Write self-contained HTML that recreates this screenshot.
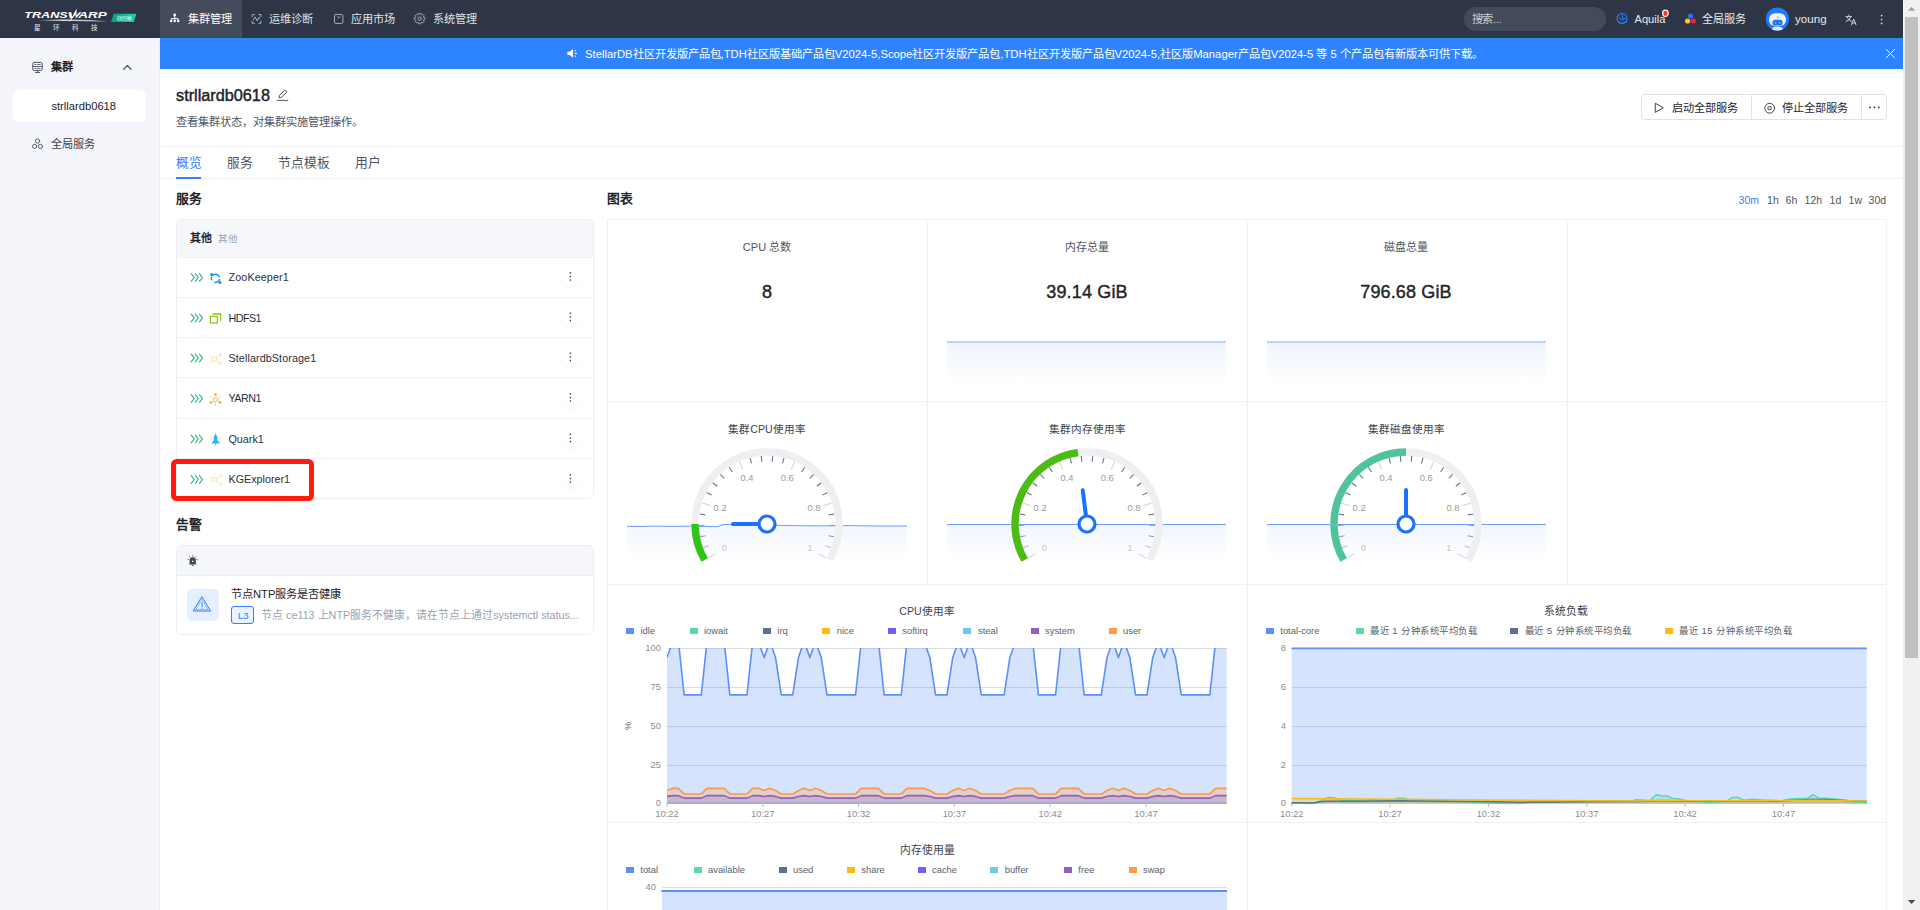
<!DOCTYPE html>
<html lang="zh-CN"><head><meta charset="utf-8"><title>Cluster</title><style>
*{box-sizing:border-box;margin:0;padding:0}
html,body{width:1920px;height:910px;overflow:hidden;background:#fff}
body{font-family:"Liberation Sans",sans-serif;font-size:11.2px;color:#1f2329;position:relative}
.abs{position:absolute}
.t{position:absolute;white-space:nowrap;line-height:1}
#hdr{position:absolute;left:0;top:0;width:1903px;height:38px;background:#2d3546}
#side{position:absolute;left:0;top:38px;width:160px;height:872px;background:#f3f5fa;border-right:1px solid #eaecf2}
#banner{position:absolute;left:160px;top:38px;width:1743px;height:31px;background:#2e84ff}
.hl{position:absolute;height:1px;background:#eff1f6}
.vl{position:absolute;width:1px;background:#eff1f6}
svg{position:absolute;overflow:visible}
</style></head><body>

<div id="hdr">
<div class="abs" style="left:160px;top:0;width:82px;height:38px;background:#444b5a"></div>
<div class="t" style="left:187.50px;width:44.02px;text-align:justify;text-align-last:justify;top:14.2px;font-size:11.2px;color:#fff">集群管理</div>
<div class="t" style="left:269.00px;width:44.02px;text-align:justify;text-align-last:justify;top:14.2px;font-size:11.2px;color:#dfe2e8">运维诊断</div>
<div class="t" style="left:350.50px;width:44.02px;text-align:justify;text-align-last:justify;top:14.2px;font-size:11.2px;color:#dfe2e8">应用市场</div>
<div class="t" style="left:432.50px;width:44.02px;text-align:justify;text-align-last:justify;top:14.2px;font-size:11.2px;color:#dfe2e8">系统管理</div>
<div class="abs" style="left:1464px;top:7px;width:142px;height:24px;border-radius:12px;background:#434a59"></div>
<div class="t" style="left:1471.59px;width:29.85px;text-align:justify;text-align-last:justify;top:14.1px;color:#c9cdd4;font-size:11.2px;letter-spacing:-0.3px">搜索...</div>
<div class="t" style="left:1634.5px;top:14px;color:#e8eaee;font-size:11.1px">Aquila</div>
<div class="t" style="left:1701.80px;width:44.02px;text-align:justify;text-align-last:justify;top:14.1px;color:#e8eaee;font-size:11.2px">全局服务</div>
<div class="t" style="left:1795px;top:13px;color:#e8eaee;font-size:11.6px">young</div>
</div>

<div id="side">
<div class="t" style="left:51.39px;width:22.02px;text-align:justify;text-align-last:justify;top:24.4px;font-size:11.2px;color:#1f2329;font-weight:bold">集群</div>
<div class="abs" style="left:13px;top:52px;width:133px;height:32px;border-radius:6px;background:#fff"></div>
<div class="t" style="left:51.4px;top:62.6px;font-size:11.2px;color:#1f2329">strllardb0618</div>
<div class="t" style="left:51.39px;width:44.02px;text-align:justify;text-align-last:justify;top:101.2px;font-size:11.2px;color:#3c4250">全局服务</div>
</div>

<div id="banner"><div class="t" style="left:425.00px;width:897.82px;text-align:justify;text-align-last:justify;top:10.6px;color:#fff;font-size:11.26px">StellarDB社区开发版产品包,TDH社区版基础产品包V2024-5,Scope社区开发版产品包,TDH社区开发版产品包V2024-5,社区版Manager产品包V2024-5 等 5 个产品包有新版本可供下载。</div></div>

<div class="t" style="left:176px;top:86.6px;font-size:16.25px;color:#1f2329;-webkit-text-stroke:0.45px #1f2329">strllardb0618</div>
<div class="t" style="left:176.00px;width:187.02px;text-align:justify;text-align-last:justify;top:117.2px;font-size:11.2px;color:#4e5563">查看集群状态，对集群实施管理操作。</div>
<div class="hl" style="left:160px;top:146px;width:1743px"></div>
<div class="t" style="left:176.00px;width:26.02px;text-align:justify;text-align-last:justify;top:157px;font-size:12.8px;color:#2f7fff">概览</div>
<div class="t" style="left:227.00px;width:26.02px;text-align:justify;text-align-last:justify;top:157px;font-size:12.8px;color:#4e5563">服务</div>
<div class="t" style="left:278.00px;width:52.02px;text-align:justify;text-align-last:justify;top:157px;font-size:12.8px;color:#4e5563">节点模板</div>
<div class="t" style="left:355.00px;width:26.02px;text-align:justify;text-align-last:justify;top:157px;font-size:12.8px;color:#4e5563">用户</div>
<div class="hl" style="left:160px;top:178px;width:1743px"></div>
<div class="abs" style="left:176px;top:177.3px;width:25px;height:1.7px;background:#2f7fff"></div>
<div class="abs" style="left:1641px;top:94px;width:246px;height:25.6px;border:1px solid #dde1ea;border-radius:4px;background:#fff"></div>
<div class="vl" style="left:1751px;top:94px;height:25.6px;background:#dfe3ea"></div>
<div class="vl" style="left:1861px;top:94px;height:25.6px;background:#dfe3ea"></div>
<div class="t" style="left:1672.00px;width:66.02px;text-align:justify;text-align-last:justify;top:102.6px;font-size:11.2px;color:#1f2329">启动全部服务</div>
<div class="t" style="left:1782.00px;width:66.02px;text-align:justify;text-align-last:justify;top:102.6px;font-size:11.2px;color:#1f2329">停止全部服务</div>
<div class="t" style="left:176.00px;width:26.02px;text-align:justify;text-align-last:justify;top:193px;font-size:12.8px;font-weight:bold;color:#1f2329">服务</div>
<div class="t" style="left:607.00px;width:26.02px;text-align:justify;text-align-last:justify;top:193px;font-size:12.8px;font-weight:bold;color:#1f2329">图表</div>
<div class="t" style="left:176.00px;width:26.02px;text-align:justify;text-align-last:justify;top:519.2px;font-size:12.8px;font-weight:bold;color:#1f2329">告警</div>
<div class="abs" style="left:176px;top:219px;width:418px;height:280px;border:1px solid #eceef3;border-radius:6px;background:#fff;overflow:hidden"><div class="abs" style="left:0;top:0;width:418px;height:38px;background:#f6f7fb"></div></div>
<div class="t" style="left:190.00px;width:22.02px;text-align:justify;text-align-last:justify;top:232.8px;font-size:10.9px;font-weight:bold;color:#1f2329">其他</div>
<div class="t" style="left:217.59px;width:20.02px;text-align:justify;text-align-last:justify;top:233.7px;font-size:9.6px;color:#a0a6b1">其他</div>
<div class="t" style="left:228.5px;top:272.1px;font-size:10.75px;letter-spacing:0.12px;color:#2a2f3a">ZooKeeper1</div>
<div class="t" style="left:228.5px;top:312.6px;font-size:10.75px;letter-spacing:-0.55px;color:#2a2f3a">HDFS1</div>
<div class="t" style="left:228.5px;top:352.6px;font-size:10.75px;letter-spacing:0.1px;color:#2a2f3a">StellardbStorage1</div>
<div class="t" style="left:228.5px;top:393.1px;font-size:10.75px;letter-spacing:-0.5px;color:#2a2f3a">YARN1</div>
<div class="t" style="left:228.5px;top:433.6px;font-size:10.75px;letter-spacing:0px;color:#2a2f3a">Quark1</div>
<div class="t" style="left:228.5px;top:474.1px;font-size:10.75px;letter-spacing:0px;color:#2a2f3a">KGExplorer1</div>
<div class="hl" style="left:177px;top:257px;width:416px"></div>
<div class="hl" style="left:177px;top:297px;width:416px"></div>
<div class="hl" style="left:177px;top:337px;width:416px"></div>
<div class="hl" style="left:177px;top:377px;width:416px"></div>
<div class="hl" style="left:177px;top:418px;width:416px"></div>
<div class="hl" style="left:177px;top:458px;width:416px"></div>
<div class="abs" style="left:561.2px;top:268.3px;width:18.4px;height:18.4px;border-radius:50%;box-shadow:0 1px 1.5px rgba(0,0,0,0.04)"></div>
<div class="abs" style="left:561.2px;top:308.8px;width:18.4px;height:18.4px;border-radius:50%;box-shadow:0 1px 1.5px rgba(0,0,0,0.04)"></div>
<div class="abs" style="left:561.2px;top:348.8px;width:18.4px;height:18.4px;border-radius:50%;box-shadow:0 1px 1.5px rgba(0,0,0,0.04)"></div>
<div class="abs" style="left:561.2px;top:389.3px;width:18.4px;height:18.4px;border-radius:50%;box-shadow:0 1px 1.5px rgba(0,0,0,0.04)"></div>
<div class="abs" style="left:561.2px;top:429.8px;width:18.4px;height:18.4px;border-radius:50%;box-shadow:0 1px 1.5px rgba(0,0,0,0.04)"></div>
<div class="abs" style="left:561.2px;top:470.3px;width:18.4px;height:18.4px;border-radius:50%;box-shadow:0 1px 1.5px rgba(0,0,0,0.04)"></div>
<div class="abs" style="left:171.3px;top:459.1px;width:142.4px;height:41.6px;border:5.2px solid #ff1c0e;border-radius:5.5px"></div>
<div class="abs" style="left:176px;top:545px;width:418px;height:90px;border:1px solid #eceef3;border-radius:6px;background:#fff;overflow:hidden"><div class="abs" style="left:0;top:0;width:418px;height:30px;background:#f6f7fb;border-bottom:1px solid #eceef3"></div></div>
<div class="abs" style="left:187px;top:589px;width:32px;height:32px;border-radius:5px;background:#e4f0ff"></div>
<div class="t" style="left:231.00px;width:110.39px;text-align:justify;text-align-last:justify;top:589.2px;font-size:11.2px;color:#1f2329">节点NTP服务是否健康</div>
<div class="abs" style="left:231px;top:606px;width:23px;height:18px;border:1px solid #2f7fff;border-radius:3px;background:#eaf3ff"></div>
<div class="t" style="left:238px;top:610.5px;font-size:9.6px;color:#2f7fff">L3</div>
<div class="t" style="left:261.00px;width:318.04px;text-align:justify;text-align-last:justify;top:609.8px;font-size:10.8px;color:#98a1b3">节点 ce113 上NTP服务不健康，请在节点上通过systemctl status...</div>
<div class="abs" style="left:607px;top:219px;width:1280px;height:700px;border:1px solid #eff1f6;background:#fff"></div>
<div class="vl" style="left:927px;top:219px;height:365px"></div>
<div class="vl" style="left:1247px;top:219px;height:691px"></div>
<div class="vl" style="left:1566.5px;top:219px;height:365px"></div>
<div class="hl" style="left:607px;top:401px;width:1280px"></div>
<div class="hl" style="left:607px;top:584px;width:1280px"></div>
<div class="hl" style="left:607px;top:822px;width:1280px"></div>
<div class="t" style="left:1738.6px;top:194.8px;font-size:10.5px;color:#2f7fff">30m</div>
<div class="t" style="left:1767.1px;top:194.8px;font-size:10.5px;color:#4e5563">1h</div>
<div class="t" style="left:1785.6px;top:194.8px;font-size:10.5px;color:#4e5563">6h</div>
<div class="t" style="left:1804.6px;top:194.8px;font-size:10.5px;color:#4e5563">12h</div>
<div class="t" style="left:1829.6px;top:194.8px;font-size:10.5px;color:#4e5563">1d</div>
<div class="t" style="left:1848.6px;top:194.8px;font-size:10.5px;color:#4e5563">1w</div>
<div class="t" style="left:1868.6px;top:194.8px;font-size:10.5px;color:#4e5563">30d</div>
<div class="t" style="left:742.86px;width:48.30px;text-align:justify;text-align-last:justify;top:242px;font-size:11px;color:#4e5563;font-weight:normal">CPU 总数</div>
<div class="t" style="left:1065.00px;width:44.02px;text-align:justify;text-align-last:justify;top:242px;font-size:11px;color:#4e5563;font-weight:normal">内存总量</div>
<div class="t" style="left:1384.00px;width:44.02px;text-align:justify;text-align-last:justify;top:242px;font-size:11px;color:#4e5563;font-weight:normal">磁盘总量</div>
<div class="t" style="left:617px;width:300px;text-align:center;top:283.2px;font-size:18px;color:#1f2329;font-weight:normal;-webkit-text-stroke:0.45px #1f2329">8</div>
<div class="t" style="left:937px;width:300px;text-align:center;top:283.2px;font-size:18px;color:#1f2329;font-weight:normal;-webkit-text-stroke:0.4px #1f2329;letter-spacing:0.15px">39.14 GiB</div>
<div class="t" style="left:1256px;width:300px;text-align:center;top:283.2px;font-size:18px;color:#1f2329;font-weight:normal;-webkit-text-stroke:0.4px #1f2329;letter-spacing:0.15px">796.68 GiB</div>
<div class="t" style="left:728.31px;width:77.39px;text-align:justify;text-align-last:justify;top:423.5px;font-size:10.6px;color:#3c4250;font-weight:normal">集群CPU使用率</div>
<div class="t" style="left:1048.50px;width:77.02px;text-align:justify;text-align-last:justify;top:423.5px;font-size:10.6px;color:#3c4250;font-weight:normal">集群内存使用率</div>
<div class="t" style="left:1367.50px;width:77.02px;text-align:justify;text-align-last:justify;top:423.5px;font-size:10.6px;color:#3c4250;font-weight:normal">集群磁盘使用率</div>
<div class="abs" style="left:626px;top:628.0px;width:8px;height:6px;background:#5b8ff9"></div>
<div class="t" style="left:640.5px;top:625.5px;font-size:9.4px;color:#595f6b">idle</div>
<div class="abs" style="left:689.7px;top:628.0px;width:8px;height:6px;background:#5ad8a6"></div>
<div class="t" style="left:704px;top:625.5px;font-size:9.4px;color:#595f6b">iowait</div>
<div class="abs" style="left:763px;top:628.0px;width:8px;height:6px;background:#5d7092"></div>
<div class="t" style="left:777.3px;top:625.5px;font-size:9.4px;color:#595f6b">irq</div>
<div class="abs" style="left:822.3px;top:628.0px;width:8px;height:6px;background:#f6bd16"></div>
<div class="t" style="left:836.7px;top:625.5px;font-size:9.4px;color:#595f6b">nice</div>
<div class="abs" style="left:888px;top:628.0px;width:8px;height:6px;background:#6f5ef9"></div>
<div class="t" style="left:902.3px;top:625.5px;font-size:9.4px;color:#595f6b">softirq</div>
<div class="abs" style="left:963.3px;top:628.0px;width:8px;height:6px;background:#6dc8ec"></div>
<div class="t" style="left:978px;top:625.5px;font-size:9.4px;color:#595f6b">steal</div>
<div class="abs" style="left:1030.7px;top:628.0px;width:8px;height:6px;background:#945fb9"></div>
<div class="t" style="left:1045px;top:625.5px;font-size:9.4px;color:#595f6b">system</div>
<div class="abs" style="left:1108.7px;top:628.0px;width:8px;height:6px;background:#ff9845"></div>
<div class="t" style="left:1123px;top:625.5px;font-size:9.4px;color:#595f6b">user</div>
<div class="t" style="left:899.31px;width:55.40px;text-align:justify;text-align-last:justify;top:606.3px;font-size:10.6px;color:#3c4250;font-weight:normal">CPU使用率</div>
<div class="t" style="left:600px;width:61px;text-align:right;top:643.3px;font-size:9.4px;color:#8c8c8c">100</div>
<div class="t" style="left:600px;width:61px;text-align:right;top:682.1px;font-size:9.4px;color:#8c8c8c">75</div>
<div class="t" style="left:600px;width:61px;text-align:right;top:720.8px;font-size:9.4px;color:#8c8c8c">50</div>
<div class="t" style="left:600px;width:61px;text-align:right;top:759.6px;font-size:9.4px;color:#8c8c8c">25</div>
<div class="t" style="left:600px;width:61px;text-align:right;top:798.4px;font-size:9.4px;color:#8c8c8c">0</div>
<div class="t" style="left:624px;top:721px;font-size:9.4px;color:#595f6b;transform:rotate(-90deg)">%</div>
<div class="t" style="left:637.0px;width:60px;text-align:center;top:808.8px;font-size:9.4px;color:#8c8c8c">10:22</div>
<div class="t" style="left:732.8px;width:60px;text-align:center;top:808.8px;font-size:9.4px;color:#8c8c8c">10:27</div>
<div class="t" style="left:828.6px;width:60px;text-align:center;top:808.8px;font-size:9.4px;color:#8c8c8c">10:32</div>
<div class="t" style="left:924.4px;width:60px;text-align:center;top:808.8px;font-size:9.4px;color:#8c8c8c">10:37</div>
<div class="t" style="left:1020.2px;width:60px;text-align:center;top:808.8px;font-size:9.4px;color:#8c8c8c">10:42</div>
<div class="t" style="left:1116.0px;width:60px;text-align:center;top:808.8px;font-size:9.4px;color:#8c8c8c">10:47</div>
<div class="abs" style="left:1266px;top:628.0px;width:8px;height:6px;background:#5b8ff9"></div>
<div class="t" style="left:1280.3px;top:625.5px;font-size:9.4px;color:#595f6b">total-core</div>
<div class="abs" style="left:1355.6px;top:628.0px;width:8px;height:6px;background:#5ad8a6"></div>
<div class="t" style="left:1370.00px;width:107.21px;text-align:justify;text-align-last:justify;top:625.5px;font-size:9.4px;letter-spacing:0.52px;color:#595f6b">最近 1 分钟系统平均负载</div>
<div class="abs" style="left:1510.3px;top:628.0px;width:8px;height:6px;background:#5d7092"></div>
<div class="t" style="left:1524.80px;width:107.21px;text-align:justify;text-align-last:justify;top:625.5px;font-size:9.4px;letter-spacing:0.52px;color:#595f6b">最近 5 分钟系统平均负载</div>
<div class="abs" style="left:1664.7px;top:628.0px;width:8px;height:6px;background:#f6bd16"></div>
<div class="t" style="left:1679.39px;width:112.94px;text-align:justify;text-align-last:justify;top:625.5px;font-size:9.4px;letter-spacing:0.52px;color:#595f6b">最近 15 分钟系统平均负载</div>
<div class="t" style="left:1544.00px;width:44.02px;text-align:justify;text-align-last:justify;top:606.2px;font-size:10.8px;color:#3c4250;font-weight:normal">系统负载</div>
<div class="t" style="left:1225px;width:61px;text-align:right;top:798.2px;font-size:9.4px;color:#8c8c8c">0</div>
<div class="t" style="left:1225px;width:61px;text-align:right;top:759.5px;font-size:9.4px;color:#8c8c8c">2</div>
<div class="t" style="left:1225px;width:61px;text-align:right;top:720.8px;font-size:9.4px;color:#8c8c8c">4</div>
<div class="t" style="left:1225px;width:61px;text-align:right;top:682.1px;font-size:9.4px;color:#8c8c8c">6</div>
<div class="t" style="left:1225px;width:61px;text-align:right;top:643.4px;font-size:9.4px;color:#8c8c8c">8</div>
<div class="t" style="left:1261.7px;width:60px;text-align:center;top:808.8px;font-size:9.4px;color:#8c8c8c">10:22</div>
<div class="t" style="left:1360.0px;width:60px;text-align:center;top:808.8px;font-size:9.4px;color:#8c8c8c">10:27</div>
<div class="t" style="left:1458.4px;width:60px;text-align:center;top:808.8px;font-size:9.4px;color:#8c8c8c">10:32</div>
<div class="t" style="left:1556.8px;width:60px;text-align:center;top:808.8px;font-size:9.4px;color:#8c8c8c">10:37</div>
<div class="t" style="left:1655.1px;width:60px;text-align:center;top:808.8px;font-size:9.4px;color:#8c8c8c">10:42</div>
<div class="t" style="left:1753.5px;width:60px;text-align:center;top:808.8px;font-size:9.4px;color:#8c8c8c">10:47</div>
<div class="abs" style="left:626px;top:867.0px;width:8px;height:6px;background:#5b8ff9"></div>
<div class="t" style="left:640.3px;top:864.5px;font-size:9.4px;color:#595f6b">total</div>
<div class="abs" style="left:693.7px;top:867.0px;width:8px;height:6px;background:#5ad8a6"></div>
<div class="t" style="left:708px;top:864.5px;font-size:9.4px;color:#595f6b">available</div>
<div class="abs" style="left:778.7px;top:867.0px;width:8px;height:6px;background:#5d7092"></div>
<div class="t" style="left:793px;top:864.5px;font-size:9.4px;color:#595f6b">used</div>
<div class="abs" style="left:847px;top:867.0px;width:8px;height:6px;background:#f6bd16"></div>
<div class="t" style="left:861.3px;top:864.5px;font-size:9.4px;color:#595f6b">share</div>
<div class="abs" style="left:917.7px;top:867.0px;width:8px;height:6px;background:#6f5ef9"></div>
<div class="t" style="left:932px;top:864.5px;font-size:9.4px;color:#595f6b">cache</div>
<div class="abs" style="left:990.3px;top:867.0px;width:8px;height:6px;background:#6dc8ec"></div>
<div class="t" style="left:1004.7px;top:864.5px;font-size:9.4px;color:#595f6b">buffer</div>
<div class="abs" style="left:1063.7px;top:867.0px;width:8px;height:6px;background:#945fb9"></div>
<div class="t" style="left:1078.3px;top:864.5px;font-size:9.4px;color:#595f6b">free</div>
<div class="abs" style="left:1128.7px;top:867.0px;width:8px;height:6px;background:#ff9845"></div>
<div class="t" style="left:1143px;top:864.5px;font-size:9.4px;color:#595f6b">swap</div>
<div class="t" style="left:899.50px;width:55.02px;text-align:justify;text-align-last:justify;top:845px;font-size:10.8px;color:#3c4250;font-weight:normal">内存使用量</div>
<div class="t" style="left:595px;width:61px;text-align:right;top:881.5px;font-size:9.4px;color:#8c8c8c">40</div>
<svg width="1920" height="910" viewBox="0 0 1920 910" style="left:0;top:0"><defs><linearGradient id="sg" x1="0" y1="0" x2="0" y2="1"><stop offset="0" stop-color="#5b8ff9" stop-opacity="0.085"/><stop offset="1" stop-color="#5b8ff9" stop-opacity="0"/></linearGradient><linearGradient id="sg2" x1="0" y1="0" x2="0" y2="1"><stop offset="0" stop-color="#5b8ff9" stop-opacity="0.10"/><stop offset="1" stop-color="#5b8ff9" stop-opacity="0"/></linearGradient><clipPath id="cpuclip"><rect x="667" y="648" width="559.6" height="156.2"/></clipPath></defs><rect x="947" y="342" width="279" height="40" fill="url(#sg2)"/><line x1="947" y1="342" x2="1226" y2="342" stroke="#86a9f5" stroke-width="1"/><rect x="1267" y="342" width="279" height="40" fill="url(#sg2)"/><line x1="1267" y1="342" x2="1546" y2="342" stroke="#86a9f5" stroke-width="1"/><line x1="707.94" y1="558.1" x2="715.56" y2="553.7" stroke="#cfcfcf" stroke-width="1"/><line x1="703.08" y1="547.77" x2="708.42" y2="545.79" stroke="#b4bfcd" stroke-width="1.1"/><line x1="700.01" y1="536.78" x2="705.61" y2="535.71" stroke="#8c9db3" stroke-width="1.1"/><line x1="698.81" y1="525.43" x2="704.51" y2="525.31" stroke="#8c9db3" stroke-width="1.1"/><line x1="699.53" y1="514.04" x2="705.17" y2="514.87" stroke="#5f7898" stroke-width="1.1"/><line x1="702.14" y1="502.93" x2="710.51" y2="505.64" stroke="#cfcfcf" stroke-width="1"/><line x1="706.56" y1="492.4" x2="711.61" y2="495.04" stroke="#5f7898" stroke-width="1.1"/><line x1="712.68" y1="482.77" x2="717.22" y2="486.21" stroke="#5f7898" stroke-width="1.1"/><line x1="720.31" y1="474.28" x2="724.22" y2="478.44" stroke="#5f7898" stroke-width="1.1"/><line x1="729.26" y1="467.19" x2="732.41" y2="471.94" stroke="#5f7898" stroke-width="1.1"/><line x1="739.26" y1="461.7" x2="742.84" y2="469.74" stroke="#cfcfcf" stroke-width="1"/><line x1="750.04" y1="457.94" x2="751.46" y2="463.46" stroke="#5f7898" stroke-width="1.1"/><line x1="761.29" y1="456.04" x2="761.77" y2="461.72" stroke="#5f7898" stroke-width="1.1"/><line x1="772.71" y1="456.04" x2="772.23" y2="461.72" stroke="#5f7898" stroke-width="1.1"/><line x1="783.96" y1="457.94" x2="782.54" y2="463.46" stroke="#5f7898" stroke-width="1.1"/><line x1="794.74" y1="461.7" x2="791.16" y2="469.74" stroke="#cfcfcf" stroke-width="1"/><line x1="804.74" y1="467.19" x2="801.59" y2="471.94" stroke="#5f7898" stroke-width="1.1"/><line x1="813.69" y1="474.28" x2="809.78" y2="478.44" stroke="#5f7898" stroke-width="1.1"/><line x1="821.32" y1="482.77" x2="816.78" y2="486.21" stroke="#5f7898" stroke-width="1.1"/><line x1="827.44" y1="492.4" x2="822.39" y2="495.04" stroke="#5f7898" stroke-width="1.1"/><line x1="831.86" y1="502.93" x2="823.49" y2="505.64" stroke="#cfcfcf" stroke-width="1"/><line x1="834.47" y1="514.04" x2="828.83" y2="514.87" stroke="#5f7898" stroke-width="1.1"/><line x1="835.19" y1="525.43" x2="829.49" y2="525.31" stroke="#8c9db3" stroke-width="1.1"/><line x1="833.99" y1="536.78" x2="828.39" y2="535.71" stroke="#8c9db3" stroke-width="1.1"/><line x1="830.92" y1="547.77" x2="825.58" y2="545.79" stroke="#b4bfcd" stroke-width="1.1"/><line x1="826.06" y1="558.1" x2="818.44" y2="553.7" stroke="#cfcfcf" stroke-width="1"/><text x="724.4" y="550.7" text-anchor="middle" font-size="9.4" fill="#c6c6c6" font-family="Liberation Sans, sans-serif">0</text><text x="720.1" y="510.7" text-anchor="middle" font-size="9.4" fill="#9a9a9a" font-family="Liberation Sans, sans-serif">0.2</text><text x="747" y="481.4" text-anchor="middle" font-size="9.4" fill="#9a9a9a" font-family="Liberation Sans, sans-serif">0.4</text><text x="787.2" y="481.4" text-anchor="middle" font-size="9.4" fill="#9a9a9a" font-family="Liberation Sans, sans-serif">0.6</text><text x="814" y="510.7" text-anchor="middle" font-size="9.4" fill="#9a9a9a" font-family="Liberation Sans, sans-serif">0.8</text><text x="809.8" y="550.7" text-anchor="middle" font-size="9.4" fill="#c6c6c6" font-family="Liberation Sans, sans-serif">1</text><path d="M627 526.3L640 526.5L655 526L670 526.4L690 526.2L705 526.5L718 526.6L721 525.2L723 524.6L740 524.6L760 525L790 525.6L820 525.9L850 525.6L880 526L907 526L907 558L627 558Z" fill="url(#sg)"/><path d="M627 526.3L640 526.5L655 526L670 526.4L690 526.2L705 526.5L718 526.6L721 525.2L723 524.6L740 524.6L760 525L790 525.6L820 525.9L850 525.6L880 526L907 526" fill="none" stroke="#6f9bf8" stroke-width="1"/><path d="M704.65 560A72 72 0 1 1 829.35 560" fill="none" stroke="#efefef" stroke-width="7.4"/><path d="M704.65 560A72 72 0 0 1 695 524" fill="none" stroke="#2fc417" stroke-width="7.4"/><line x1="767" y1="524" x2="733" y2="524" stroke="#1a72ff" stroke-width="4" stroke-linecap="round"/><circle cx="767" cy="524" r="8" fill="#fff" stroke="#1a72ff" stroke-width="3.2"/><line x1="1027.94" y1="558.1" x2="1035.56" y2="553.7" stroke="#cfcfcf" stroke-width="1"/><line x1="1023.08" y1="547.77" x2="1028.42" y2="545.79" stroke="#b4bfcd" stroke-width="1.1"/><line x1="1020.01" y1="536.78" x2="1025.61" y2="535.71" stroke="#8c9db3" stroke-width="1.1"/><line x1="1018.81" y1="525.43" x2="1024.51" y2="525.31" stroke="#8c9db3" stroke-width="1.1"/><line x1="1019.53" y1="514.04" x2="1025.17" y2="514.87" stroke="#5f7898" stroke-width="1.1"/><line x1="1022.14" y1="502.93" x2="1030.51" y2="505.64" stroke="#cfcfcf" stroke-width="1"/><line x1="1026.56" y1="492.4" x2="1031.61" y2="495.04" stroke="#5f7898" stroke-width="1.1"/><line x1="1032.68" y1="482.77" x2="1037.22" y2="486.21" stroke="#5f7898" stroke-width="1.1"/><line x1="1040.31" y1="474.28" x2="1044.22" y2="478.44" stroke="#5f7898" stroke-width="1.1"/><line x1="1049.26" y1="467.19" x2="1052.41" y2="471.94" stroke="#5f7898" stroke-width="1.1"/><line x1="1059.26" y1="461.7" x2="1062.84" y2="469.74" stroke="#cfcfcf" stroke-width="1"/><line x1="1070.04" y1="457.94" x2="1071.46" y2="463.46" stroke="#5f7898" stroke-width="1.1"/><line x1="1081.29" y1="456.04" x2="1081.77" y2="461.72" stroke="#5f7898" stroke-width="1.1"/><line x1="1092.71" y1="456.04" x2="1092.23" y2="461.72" stroke="#5f7898" stroke-width="1.1"/><line x1="1103.96" y1="457.94" x2="1102.54" y2="463.46" stroke="#5f7898" stroke-width="1.1"/><line x1="1114.74" y1="461.7" x2="1111.16" y2="469.74" stroke="#cfcfcf" stroke-width="1"/><line x1="1124.74" y1="467.19" x2="1121.59" y2="471.94" stroke="#5f7898" stroke-width="1.1"/><line x1="1133.69" y1="474.28" x2="1129.78" y2="478.44" stroke="#5f7898" stroke-width="1.1"/><line x1="1141.32" y1="482.77" x2="1136.78" y2="486.21" stroke="#5f7898" stroke-width="1.1"/><line x1="1147.44" y1="492.4" x2="1142.39" y2="495.04" stroke="#5f7898" stroke-width="1.1"/><line x1="1151.86" y1="502.93" x2="1143.49" y2="505.64" stroke="#cfcfcf" stroke-width="1"/><line x1="1154.47" y1="514.04" x2="1148.83" y2="514.87" stroke="#5f7898" stroke-width="1.1"/><line x1="1155.19" y1="525.43" x2="1149.49" y2="525.31" stroke="#8c9db3" stroke-width="1.1"/><line x1="1153.99" y1="536.78" x2="1148.39" y2="535.71" stroke="#8c9db3" stroke-width="1.1"/><line x1="1150.92" y1="547.77" x2="1145.58" y2="545.79" stroke="#b4bfcd" stroke-width="1.1"/><line x1="1146.06" y1="558.1" x2="1138.44" y2="553.7" stroke="#cfcfcf" stroke-width="1"/><text x="1044.4" y="550.7" text-anchor="middle" font-size="9.4" fill="#c6c6c6" font-family="Liberation Sans, sans-serif">0</text><text x="1040.1" y="510.7" text-anchor="middle" font-size="9.4" fill="#9a9a9a" font-family="Liberation Sans, sans-serif">0.2</text><text x="1067" y="481.4" text-anchor="middle" font-size="9.4" fill="#9a9a9a" font-family="Liberation Sans, sans-serif">0.4</text><text x="1107.2" y="481.4" text-anchor="middle" font-size="9.4" fill="#9a9a9a" font-family="Liberation Sans, sans-serif">0.6</text><text x="1134" y="510.7" text-anchor="middle" font-size="9.4" fill="#9a9a9a" font-family="Liberation Sans, sans-serif">0.8</text><text x="1129.8" y="550.7" text-anchor="middle" font-size="9.4" fill="#c6c6c6" font-family="Liberation Sans, sans-serif">1</text><rect x="947" y="524.5" width="279" height="34" fill="url(#sg)"/><line x1="947" y1="524.5" x2="1226" y2="524.5" stroke="#6f9bf8" stroke-width="1"/><path d="M1024.65 560A72 72 0 1 1 1149.35 560" fill="none" stroke="#efefef" stroke-width="7.4"/><path d="M1024.65 560A72 72 0 0 1 1077.98 452.57" fill="none" stroke="#4cbb14" stroke-width="7.4"/><line x1="1087" y1="524" x2="1082.74" y2="490.27" stroke="#1a72ff" stroke-width="4" stroke-linecap="round"/><circle cx="1087" cy="524" r="8" fill="#fff" stroke="#1a72ff" stroke-width="3.2"/><line x1="1346.94" y1="558.1" x2="1354.56" y2="553.7" stroke="#cfcfcf" stroke-width="1"/><line x1="1342.08" y1="547.77" x2="1347.42" y2="545.79" stroke="#b4bfcd" stroke-width="1.1"/><line x1="1339.01" y1="536.78" x2="1344.61" y2="535.71" stroke="#8c9db3" stroke-width="1.1"/><line x1="1337.81" y1="525.43" x2="1343.51" y2="525.31" stroke="#8c9db3" stroke-width="1.1"/><line x1="1338.53" y1="514.04" x2="1344.17" y2="514.87" stroke="#5f7898" stroke-width="1.1"/><line x1="1341.14" y1="502.93" x2="1349.51" y2="505.64" stroke="#cfcfcf" stroke-width="1"/><line x1="1345.56" y1="492.4" x2="1350.61" y2="495.04" stroke="#5f7898" stroke-width="1.1"/><line x1="1351.68" y1="482.77" x2="1356.22" y2="486.21" stroke="#5f7898" stroke-width="1.1"/><line x1="1359.31" y1="474.28" x2="1363.22" y2="478.44" stroke="#5f7898" stroke-width="1.1"/><line x1="1368.26" y1="467.19" x2="1371.41" y2="471.94" stroke="#5f7898" stroke-width="1.1"/><line x1="1378.26" y1="461.7" x2="1381.84" y2="469.74" stroke="#cfcfcf" stroke-width="1"/><line x1="1389.04" y1="457.94" x2="1390.46" y2="463.46" stroke="#5f7898" stroke-width="1.1"/><line x1="1400.29" y1="456.04" x2="1400.77" y2="461.72" stroke="#5f7898" stroke-width="1.1"/><line x1="1411.71" y1="456.04" x2="1411.23" y2="461.72" stroke="#5f7898" stroke-width="1.1"/><line x1="1422.96" y1="457.94" x2="1421.54" y2="463.46" stroke="#5f7898" stroke-width="1.1"/><line x1="1433.74" y1="461.7" x2="1430.16" y2="469.74" stroke="#cfcfcf" stroke-width="1"/><line x1="1443.74" y1="467.19" x2="1440.59" y2="471.94" stroke="#5f7898" stroke-width="1.1"/><line x1="1452.69" y1="474.28" x2="1448.78" y2="478.44" stroke="#5f7898" stroke-width="1.1"/><line x1="1460.32" y1="482.77" x2="1455.78" y2="486.21" stroke="#5f7898" stroke-width="1.1"/><line x1="1466.44" y1="492.4" x2="1461.39" y2="495.04" stroke="#5f7898" stroke-width="1.1"/><line x1="1470.86" y1="502.93" x2="1462.49" y2="505.64" stroke="#cfcfcf" stroke-width="1"/><line x1="1473.47" y1="514.04" x2="1467.83" y2="514.87" stroke="#5f7898" stroke-width="1.1"/><line x1="1474.19" y1="525.43" x2="1468.49" y2="525.31" stroke="#8c9db3" stroke-width="1.1"/><line x1="1472.99" y1="536.78" x2="1467.39" y2="535.71" stroke="#8c9db3" stroke-width="1.1"/><line x1="1469.92" y1="547.77" x2="1464.58" y2="545.79" stroke="#b4bfcd" stroke-width="1.1"/><line x1="1465.06" y1="558.1" x2="1457.44" y2="553.7" stroke="#cfcfcf" stroke-width="1"/><text x="1363.4" y="550.7" text-anchor="middle" font-size="9.4" fill="#c6c6c6" font-family="Liberation Sans, sans-serif">0</text><text x="1359.1" y="510.7" text-anchor="middle" font-size="9.4" fill="#9a9a9a" font-family="Liberation Sans, sans-serif">0.2</text><text x="1386" y="481.4" text-anchor="middle" font-size="9.4" fill="#9a9a9a" font-family="Liberation Sans, sans-serif">0.4</text><text x="1426.2" y="481.4" text-anchor="middle" font-size="9.4" fill="#9a9a9a" font-family="Liberation Sans, sans-serif">0.6</text><text x="1453" y="510.7" text-anchor="middle" font-size="9.4" fill="#9a9a9a" font-family="Liberation Sans, sans-serif">0.8</text><text x="1448.8" y="550.7" text-anchor="middle" font-size="9.4" fill="#c6c6c6" font-family="Liberation Sans, sans-serif">1</text><rect x="1267" y="524.5" width="279" height="34" fill="url(#sg)"/><line x1="1267" y1="524.5" x2="1546" y2="524.5" stroke="#6f9bf8" stroke-width="1"/><path d="M1343.65 560A72 72 0 1 1 1468.35 560" fill="none" stroke="#efefef" stroke-width="7.4"/><path d="M1343.65 560A72 72 0 0 1 1406 452" fill="none" stroke="#4fc49b" stroke-width="7.4"/><line x1="1406" y1="524" x2="1406" y2="490" stroke="#1a72ff" stroke-width="4" stroke-linecap="round"/><circle cx="1406" cy="524" r="8" fill="#fff" stroke="#1a72ff" stroke-width="3.2"/><line x1="667" y1="648.5" x2="1227" y2="648.5" stroke="#dcdcdc" stroke-width="1"/><line x1="667" y1="687.5" x2="1227" y2="687.5" stroke="#dcdcdc" stroke-width="1"/><line x1="667" y1="726.5" x2="1227" y2="726.5" stroke="#dcdcdc" stroke-width="1"/><line x1="667" y1="765.5" x2="1227" y2="765.5" stroke="#dcdcdc" stroke-width="1"/><line x1="667" y1="803.5" x2="1227" y2="803.5" stroke="#dcdcdc" stroke-width="1"/><line x1="667" y1="803.5" x2="667" y2="807" stroke="#bfbfbf" stroke-width="1"/><line x1="762.8" y1="803.5" x2="762.8" y2="807" stroke="#bfbfbf" stroke-width="1"/><line x1="858.6" y1="803.5" x2="858.6" y2="807" stroke="#bfbfbf" stroke-width="1"/><line x1="954.4" y1="803.5" x2="954.4" y2="807" stroke="#bfbfbf" stroke-width="1"/><line x1="1050.2" y1="803.5" x2="1050.2" y2="807" stroke="#bfbfbf" stroke-width="1"/><line x1="1146" y1="803.5" x2="1146" y2="807" stroke="#bfbfbf" stroke-width="1"/><g clip-path="url(#cpuclip)"><path d="M667 657.61L672.71 641.32L678.43 641.32L684.14 694.83L689.86 694.83L695.57 694.83L701.29 694.83L707 641.32L712.71 641.32L718.43 641.32L724.14 641.32L729.86 694.83L735.57 694.83L741.29 694.83L747 694.83L752.71 641.32L758.43 641.32L764.14 657.61L769.86 641.32L775.57 657.61L781.29 694.83L787 694.83L792.71 694.83L798.43 657.61L804.14 641.32L809.86 657.61L815.57 641.32L821.29 657.61L827 694.83L832.71 694.83L838.43 694.83L844.14 694.83L849.86 694.83L855.57 694.83L861.29 641.32L867 641.32L872.71 641.32L878.43 641.32L884.14 694.83L889.86 694.83L895.57 694.83L901.29 694.83L907 641.32L912.71 641.32L918.43 641.32L924.14 641.32L929.86 657.61L935.57 694.83L941.29 694.83L947 694.83L952.71 657.61L958.43 641.32L964.14 657.61L969.86 641.32L975.57 657.61L981.29 694.83L987 694.83L992.71 694.83L998.43 694.83L1004.14 694.83L1009.86 657.61L1015.57 641.32L1021.29 641.32L1027 641.32L1032.71 641.32L1038.43 694.83L1044.14 694.83L1049.86 694.83L1055.57 694.83L1061.29 641.32L1067 641.32L1072.71 641.32L1078.43 641.32L1084.14 694.83L1089.86 694.83L1095.57 694.83L1101.29 694.83L1107 657.61L1112.71 641.32L1118.43 657.61L1124.14 641.32L1129.86 657.61L1135.57 694.83L1141.29 694.83L1147 694.83L1152.71 657.61L1158.43 641.32L1164.14 657.61L1169.86 641.32L1175.57 657.61L1181.29 694.83L1187 694.83L1192.71 694.83L1198.43 694.83L1204.14 694.83L1209.86 694.83L1215.57 641.32L1221.29 641.32L1227 641.32L1227 803.4L667 803.4Z" fill="#5b8ff9" fill-opacity="0.25"/><path d="M667 790.53L672.71 788.36L678.43 788.36L684.14 793.94L689.86 793.94L695.57 793.94L701.29 793.94L707 788.36L712.71 788.36L718.43 788.36L724.14 788.36L729.86 793.94L735.57 793.94L741.29 793.94L747 793.94L752.71 788.36L758.43 788.36L764.14 790.53L769.86 788.36L775.57 790.53L781.29 793.94L787 793.94L792.71 793.94L798.43 790.53L804.14 788.36L809.86 790.53L815.57 788.36L821.29 790.53L827 793.94L832.71 793.94L838.43 793.94L844.14 793.94L849.86 793.94L855.57 793.94L861.29 788.36L867 788.36L872.71 788.36L878.43 788.36L884.14 793.94L889.86 793.94L895.57 793.94L901.29 793.94L907 788.36L912.71 788.36L918.43 788.36L924.14 788.36L929.86 790.53L935.57 793.94L941.29 793.94L947 793.94L952.71 790.53L958.43 788.36L964.14 790.53L969.86 788.36L975.57 790.53L981.29 793.94L987 793.94L992.71 793.94L998.43 793.94L1004.14 793.94L1009.86 790.53L1015.57 788.36L1021.29 788.36L1027 788.36L1032.71 788.36L1038.43 793.94L1044.14 793.94L1049.86 793.94L1055.57 793.94L1061.29 788.36L1067 788.36L1072.71 788.36L1078.43 788.36L1084.14 793.94L1089.86 793.94L1095.57 793.94L1101.29 793.94L1107 790.53L1112.71 788.36L1118.43 790.53L1124.14 788.36L1129.86 790.53L1135.57 793.94L1141.29 793.94L1147 793.94L1152.71 790.53L1158.43 788.36L1164.14 790.53L1169.86 788.36L1175.57 790.53L1181.29 793.94L1187 793.94L1192.71 793.94L1198.43 793.94L1204.14 793.94L1209.86 793.94L1215.57 788.36L1221.29 788.36L1227 788.36L1227 803.4L667 803.4Z" fill="#ff9845" fill-opacity="0.25"/><path d="M667 796.42L672.71 795.64L678.43 795.64L684.14 798.13L689.86 798.13L695.57 798.13L701.29 798.13L707 795.64L712.71 795.64L718.43 795.64L724.14 795.64L729.86 798.13L735.57 798.13L741.29 798.13L747 798.13L752.71 795.64L758.43 795.64L764.14 796.42L769.86 795.64L775.57 796.42L781.29 798.13L787 798.13L792.71 798.13L798.43 796.42L804.14 795.64L809.86 796.42L815.57 795.64L821.29 796.42L827 798.13L832.71 798.13L838.43 798.13L844.14 798.13L849.86 798.13L855.57 798.13L861.29 795.64L867 795.64L872.71 795.64L878.43 795.64L884.14 798.13L889.86 798.13L895.57 798.13L901.29 798.13L907 795.64L912.71 795.64L918.43 795.64L924.14 795.64L929.86 796.42L935.57 798.13L941.29 798.13L947 798.13L952.71 796.42L958.43 795.64L964.14 796.42L969.86 795.64L975.57 796.42L981.29 798.13L987 798.13L992.71 798.13L998.43 798.13L1004.14 798.13L1009.86 796.42L1015.57 795.64L1021.29 795.64L1027 795.64L1032.71 795.64L1038.43 798.13L1044.14 798.13L1049.86 798.13L1055.57 798.13L1061.29 795.64L1067 795.64L1072.71 795.64L1078.43 795.64L1084.14 798.13L1089.86 798.13L1095.57 798.13L1101.29 798.13L1107 796.42L1112.71 795.64L1118.43 796.42L1124.14 795.64L1129.86 796.42L1135.57 798.13L1141.29 798.13L1147 798.13L1152.71 796.42L1158.43 795.64L1164.14 796.42L1169.86 795.64L1175.57 796.42L1181.29 798.13L1187 798.13L1192.71 798.13L1198.43 798.13L1204.14 798.13L1209.86 798.13L1215.57 795.64L1221.29 795.64L1227 795.64L1227 803.4L667 803.4Z" fill="#945fb9" fill-opacity="0.25"/><path d="M667 657.61L672.71 641.32L678.43 641.32L684.14 694.83L689.86 694.83L695.57 694.83L701.29 694.83L707 641.32L712.71 641.32L718.43 641.32L724.14 641.32L729.86 694.83L735.57 694.83L741.29 694.83L747 694.83L752.71 641.32L758.43 641.32L764.14 657.61L769.86 641.32L775.57 657.61L781.29 694.83L787 694.83L792.71 694.83L798.43 657.61L804.14 641.32L809.86 657.61L815.57 641.32L821.29 657.61L827 694.83L832.71 694.83L838.43 694.83L844.14 694.83L849.86 694.83L855.57 694.83L861.29 641.32L867 641.32L872.71 641.32L878.43 641.32L884.14 694.83L889.86 694.83L895.57 694.83L901.29 694.83L907 641.32L912.71 641.32L918.43 641.32L924.14 641.32L929.86 657.61L935.57 694.83L941.29 694.83L947 694.83L952.71 657.61L958.43 641.32L964.14 657.61L969.86 641.32L975.57 657.61L981.29 694.83L987 694.83L992.71 694.83L998.43 694.83L1004.14 694.83L1009.86 657.61L1015.57 641.32L1021.29 641.32L1027 641.32L1032.71 641.32L1038.43 694.83L1044.14 694.83L1049.86 694.83L1055.57 694.83L1061.29 641.32L1067 641.32L1072.71 641.32L1078.43 641.32L1084.14 694.83L1089.86 694.83L1095.57 694.83L1101.29 694.83L1107 657.61L1112.71 641.32L1118.43 657.61L1124.14 641.32L1129.86 657.61L1135.57 694.83L1141.29 694.83L1147 694.83L1152.71 657.61L1158.43 641.32L1164.14 657.61L1169.86 641.32L1175.57 657.61L1181.29 694.83L1187 694.83L1192.71 694.83L1198.43 694.83L1204.14 694.83L1209.86 694.83L1215.57 641.32L1221.29 641.32L1227 641.32" fill="none" stroke="#5b8ff9" stroke-width="1.6" stroke-linejoin="round"/><path d="M667 790.53L672.71 788.36L678.43 788.36L684.14 793.94L689.86 793.94L695.57 793.94L701.29 793.94L707 788.36L712.71 788.36L718.43 788.36L724.14 788.36L729.86 793.94L735.57 793.94L741.29 793.94L747 793.94L752.71 788.36L758.43 788.36L764.14 790.53L769.86 788.36L775.57 790.53L781.29 793.94L787 793.94L792.71 793.94L798.43 790.53L804.14 788.36L809.86 790.53L815.57 788.36L821.29 790.53L827 793.94L832.71 793.94L838.43 793.94L844.14 793.94L849.86 793.94L855.57 793.94L861.29 788.36L867 788.36L872.71 788.36L878.43 788.36L884.14 793.94L889.86 793.94L895.57 793.94L901.29 793.94L907 788.36L912.71 788.36L918.43 788.36L924.14 788.36L929.86 790.53L935.57 793.94L941.29 793.94L947 793.94L952.71 790.53L958.43 788.36L964.14 790.53L969.86 788.36L975.57 790.53L981.29 793.94L987 793.94L992.71 793.94L998.43 793.94L1004.14 793.94L1009.86 790.53L1015.57 788.36L1021.29 788.36L1027 788.36L1032.71 788.36L1038.43 793.94L1044.14 793.94L1049.86 793.94L1055.57 793.94L1061.29 788.36L1067 788.36L1072.71 788.36L1078.43 788.36L1084.14 793.94L1089.86 793.94L1095.57 793.94L1101.29 793.94L1107 790.53L1112.71 788.36L1118.43 790.53L1124.14 788.36L1129.86 790.53L1135.57 793.94L1141.29 793.94L1147 793.94L1152.71 790.53L1158.43 788.36L1164.14 790.53L1169.86 788.36L1175.57 790.53L1181.29 793.94L1187 793.94L1192.71 793.94L1198.43 793.94L1204.14 793.94L1209.86 793.94L1215.57 788.36L1221.29 788.36L1227 788.36" fill="none" stroke="#ff9845" stroke-width="1.6" stroke-linejoin="round"/><path d="M667 796.42L672.71 795.64L678.43 795.64L684.14 798.13L689.86 798.13L695.57 798.13L701.29 798.13L707 795.64L712.71 795.64L718.43 795.64L724.14 795.64L729.86 798.13L735.57 798.13L741.29 798.13L747 798.13L752.71 795.64L758.43 795.64L764.14 796.42L769.86 795.64L775.57 796.42L781.29 798.13L787 798.13L792.71 798.13L798.43 796.42L804.14 795.64L809.86 796.42L815.57 795.64L821.29 796.42L827 798.13L832.71 798.13L838.43 798.13L844.14 798.13L849.86 798.13L855.57 798.13L861.29 795.64L867 795.64L872.71 795.64L878.43 795.64L884.14 798.13L889.86 798.13L895.57 798.13L901.29 798.13L907 795.64L912.71 795.64L918.43 795.64L924.14 795.64L929.86 796.42L935.57 798.13L941.29 798.13L947 798.13L952.71 796.42L958.43 795.64L964.14 796.42L969.86 795.64L975.57 796.42L981.29 798.13L987 798.13L992.71 798.13L998.43 798.13L1004.14 798.13L1009.86 796.42L1015.57 795.64L1021.29 795.64L1027 795.64L1032.71 795.64L1038.43 798.13L1044.14 798.13L1049.86 798.13L1055.57 798.13L1061.29 795.64L1067 795.64L1072.71 795.64L1078.43 795.64L1084.14 798.13L1089.86 798.13L1095.57 798.13L1101.29 798.13L1107 796.42L1112.71 795.64L1118.43 796.42L1124.14 795.64L1129.86 796.42L1135.57 798.13L1141.29 798.13L1147 798.13L1152.71 796.42L1158.43 795.64L1164.14 796.42L1169.86 795.64L1175.57 796.42L1181.29 798.13L1187 798.13L1192.71 798.13L1198.43 798.13L1204.14 798.13L1209.86 798.13L1215.57 795.64L1221.29 795.64L1227 795.64" fill="none" stroke="#945fb9" stroke-width="1.6" stroke-linejoin="round"/><line x1="667" y1="802.5" x2="1227" y2="802.5" stroke="#8f86ee" stroke-width="0.6" stroke-opacity="0.6"/><line x1="667" y1="803.3" x2="1227" y2="803.3" stroke="#6dc8ec" stroke-width="1.3"/></g><line x1="1291.7" y1="803.5" x2="1866.8" y2="803.5" stroke="#dcdcdc" stroke-width="1"/><line x1="1291.7" y1="765.5" x2="1866.8" y2="765.5" stroke="#dcdcdc" stroke-width="1"/><line x1="1291.7" y1="726.5" x2="1866.8" y2="726.5" stroke="#dcdcdc" stroke-width="1"/><line x1="1291.7" y1="687.5" x2="1866.8" y2="687.5" stroke="#dcdcdc" stroke-width="1"/><line x1="1291.7" y1="648.5" x2="1866.8" y2="648.5" stroke="#dcdcdc" stroke-width="1"/><line x1="1291.7" y1="803.5" x2="1291.7" y2="807" stroke="#bfbfbf" stroke-width="1"/><line x1="1390.05" y1="803.5" x2="1390.05" y2="807" stroke="#bfbfbf" stroke-width="1"/><line x1="1488.4" y1="803.5" x2="1488.4" y2="807" stroke="#bfbfbf" stroke-width="1"/><line x1="1586.75" y1="803.5" x2="1586.75" y2="807" stroke="#bfbfbf" stroke-width="1"/><line x1="1685.1" y1="803.5" x2="1685.1" y2="807" stroke="#bfbfbf" stroke-width="1"/><line x1="1783.45" y1="803.5" x2="1783.45" y2="807" stroke="#bfbfbf" stroke-width="1"/><rect x="1291.7" y="648.4" width="575.1" height="154.8" fill="#5b8ff9" fill-opacity="0.25"/><line x1="1291.7" y1="648.4" x2="1866.8" y2="648.4" stroke="#5b8ff9" stroke-width="1.8"/><path d="M1291.7 802.9L1316 802.9L1322 800L1328 797.6L1334 797.8L1340 800.3L1352 800.2L1358 800.6L1366 800L1372 799.6L1380 800.5L1392 800.3L1398 798.3L1404 798.2L1410 800L1420 800.2L1440 800.6L1460 801.6L1480 802.8L1500 803.3L1520 803.4L1530 802.3L1560 801.6L1600 801.3L1630 801.4L1636 799.8L1642 799.9L1650 800.8L1656 794.7L1661 795.8L1667 796L1673 798.6L1680 799L1686 800.8L1710 802.6L1727 801L1732 797.6L1738 797.5L1744 800.3L1752 799.3L1762 799.9L1772 800.2L1781 801L1790 799L1800 798.6L1808 798.2L1813 794.7L1819 798.4L1826 798.3L1836 799L1845 800.5L1856 802.2L1866.8 802.8L1866.8 803.2L1291.7 803.2Z" fill="#5ad8a6" fill-opacity="0.25"/><path d="M1291.7 802.8L1313 802.9L1320 801.8L1326 801.2L1360 801.3L1400 800.8L1440 801.2L1480 801.6L1520 802.2L1560 801.9L1600 801.6L1640 801.5L1660 800.6L1700 801.2L1740 800.9L1780 800.9L1813 799.3L1830 799.8L1850 800.8L1866.8 801.3L1866.8 803.2L1291.7 803.2Z" fill="#5d7092" fill-opacity="0.25"/><path d="M1291.7 798.4L1330 798.7L1400 799.2L1480 800L1560 800.6L1640 801L1660 800.3L1700 800.7L1760 800.8L1813 800.3L1866.8 800.9L1866.8 803.2L1291.7 803.2Z" fill="#f6bd16" fill-opacity="0.25"/><path d="M1291.7 802.9L1316 802.9L1322 800L1328 797.6L1334 797.8L1340 800.3L1352 800.2L1358 800.6L1366 800L1372 799.6L1380 800.5L1392 800.3L1398 798.3L1404 798.2L1410 800L1420 800.2L1440 800.6L1460 801.6L1480 802.8L1500 803.3L1520 803.4L1530 802.3L1560 801.6L1600 801.3L1630 801.4L1636 799.8L1642 799.9L1650 800.8L1656 794.7L1661 795.8L1667 796L1673 798.6L1680 799L1686 800.8L1710 802.6L1727 801L1732 797.6L1738 797.5L1744 800.3L1752 799.3L1762 799.9L1772 800.2L1781 801L1790 799L1800 798.6L1808 798.2L1813 794.7L1819 798.4L1826 798.3L1836 799L1845 800.5L1856 802.2L1866.8 802.8" fill="none" stroke="#5ad8a6" stroke-width="1.5" stroke-linejoin="round"/><path d="M1291.7 802.8L1313 802.9L1320 801.8L1326 801.2L1360 801.3L1400 800.8L1440 801.2L1480 801.6L1520 802.2L1560 801.9L1600 801.6L1640 801.5L1660 800.6L1700 801.2L1740 800.9L1780 800.9L1813 799.3L1830 799.8L1850 800.8L1866.8 801.3" fill="none" stroke="#5d7092" stroke-width="1.5" stroke-linejoin="round"/><path d="M1291.7 798.4L1330 798.7L1400 799.2L1480 800L1560 800.6L1640 801L1660 800.3L1700 800.7L1760 800.8L1813 800.3L1866.8 800.9" fill="none" stroke="#f6bd16" stroke-width="1.5" stroke-linejoin="round"/><line x1="662" y1="887.5" x2="1227" y2="887.5" stroke="#dcdcdc" stroke-width="1"/><rect x="662" y="891" width="565" height="20" fill="#5b8ff9" fill-opacity="0.25"/><line x1="661.4" y1="891" x2="1227" y2="891" stroke="#5b8ff9" stroke-width="1.8"/></svg>
<svg width="1920" height="910" viewBox="0 0 1920 910" style="left:0;top:0" fill="none" stroke-linecap="round" stroke-linejoin="round"><defs><linearGradient id="bdg" x1="0" y1="0" x2="1" y2="0"><stop offset="0" stop-color="#0a9c82"/><stop offset="1" stop-color="#1fcfa8"/></linearGradient><linearGradient id="sw" x1="0" y1="0" x2="1" y2="0"><stop offset="0" stop-color="#fff" stop-opacity="0"/><stop offset="0.35" stop-color="#fff" stop-opacity="0.9"/><stop offset="0.75" stop-color="#fff" stop-opacity="0.8"/><stop offset="1" stop-color="#fff" stop-opacity="0"/></linearGradient></defs><text x="24.2" y="18.2" font-family="Liberation Sans, sans-serif" font-weight="bold" font-style="italic" font-size="8.6" fill="#fff" stroke="none" textLength="43.5" lengthAdjust="spacingAndGlyphs">TRANS</text><text x="78.2" y="18.2" font-family="Liberation Sans, sans-serif" font-weight="bold" font-style="italic" font-size="8.6" fill="#fff" stroke="none" textLength="28.5" lengthAdjust="spacingAndGlyphs">ARP</text><path d="M68.4 12.2 L71.3 12.2 L72.1 16.8 L76.6 8.4 L76.5 15.6 L79.4 12.2 L81.6 12.2 L75.8 18.6 L75.5 14.4 L69 22.4 L71.4 18.3 L69.8 18.2 Z" fill="#fff" stroke="none"/><path d="M38 20.6 Q70 18.4 108 21.6 Q72 19.9 38 20.6Z" fill="url(#sw)" stroke="url(#sw)" stroke-width="0.5"/><text x="33.8" y="29.6" font-family="Liberation Sans, sans-serif" font-size="6.6" fill="#e6e8ec" stroke="none">星</text><text x="53" y="29.6" font-family="Liberation Sans, sans-serif" font-size="6.6" fill="#e6e8ec" stroke="none">环</text><text x="72" y="29.6" font-family="Liberation Sans, sans-serif" font-size="6.6" fill="#e6e8ec" stroke="none">科</text><text x="91.4" y="29.6" font-family="Liberation Sans, sans-serif" font-size="6.6" fill="#e6e8ec" stroke="none">技</text><path d="M113.6 13.7 H136.4 L133.8 22.1 H111 Z" fill="url(#bdg)" stroke="none"/><text x="115.8" y="19.9" font-family="Liberation Sans, sans-serif" font-style="italic" font-size="5.2" fill="#eafff9" stroke="none" textLength="16" lengthAdjust="spacingAndGlyphs">社区版</text><g stroke="#fff" stroke-width="1" fill="#fff"><circle cx="174.7" cy="14.9" r="1.4" stroke="none"/><path d="M174.7 16 V21 M171.3 21 V18.6 H178.1 V21" fill="none"/><circle cx="171.2" cy="20.9" r="1.25" stroke="none"/><circle cx="174.7" cy="20.9" r="1.25" stroke="none"/><circle cx="178.2" cy="20.9" r="1.25" stroke="none"/></g><g stroke="#aab0bd" stroke-width="1"><path d="M252.2 16.6 V14.6 H254.4 M258.8 14.6 H261 V16.6 M261 21.2 V23.3 H258.8 M254.4 23.3 H252.2 V21.2"/><path d="M253.4 19.6 L255.2 17 L257.2 21 L259 17.2 L259.9 18.4"/></g><g stroke="#aab0bd" stroke-width="1"><rect x="334.5" y="14.4" width="8.4" height="9" rx="1.3"/><path d="M337.3 16.7 L338.7 17.9 L340.1 16.7"/></g><path d="M424.78 17.50L424.78 19.70L423.48 19.93L423.29 20.40L424.04 21.49L422.49 23.04L421.40 22.29L420.93 22.48L420.70 23.78L418.50 23.78L418.27 22.48L417.80 22.29L416.71 23.04L415.16 21.49L415.91 20.40L415.72 19.93L414.42 19.70L414.42 17.50L415.72 17.27L415.91 16.80L415.16 15.71L416.71 14.16L417.80 14.91L418.27 14.72L418.50 13.42L420.70 13.42L420.93 14.72L421.40 14.91L422.49 14.16L424.04 15.71L423.29 16.80L423.48 17.27Z" stroke="#aab0bd" stroke-width="0.9"/><circle cx="419.6" cy="18.6" r="1.7" stroke="#aab0bd" stroke-width="0.9"/><g stroke="#1d84ff" stroke-width="1.1"><circle cx="1622" cy="18.4" r="4.9"/><path d="M1619.2 17.4 Q1620.4 20.6 1623.6 19.9 M1622.3 14.6 V18.6 H1625.4 M1618.6 22.4 Q1622.5 25 1627 21.4" stroke-width="1"/></g><rect x="1662" y="9.6" width="6.8" height="7.4" rx="3.4" fill="#ffe3e4" stroke="none"/><rect x="1663.6" y="10.9" width="3.6" height="4.8" rx="1.2" fill="#f5323f" stroke="none"/><circle cx="1690.5" cy="16" r="2.6" fill="#2b6cff" stroke="none"/><circle cx="1687.6" cy="21" r="2.6" fill="#ffc70f" stroke="none"/><circle cx="1693.4" cy="21" r="2.6" fill="#ff1744" stroke="none"/><circle cx="1777.4" cy="19" r="11.6" fill="#1c7bff" stroke="none"/><clipPath id="avc"><circle cx="1777.4" cy="19" r="11.6"/></clipPath><g clip-path="url(#avc)" stroke="none"><rect x="1769" y="13.3" width="17" height="12.6" rx="6" fill="#eef4fb"/><rect x="1772.4" y="19.8" width="10.3" height="5.8" rx="2.9" fill="#2b6fe0"/><circle cx="1775.4" cy="22.8" r="0.9" fill="#37d1ff"/><circle cx="1779.8" cy="22.8" r="0.9" fill="#37d1ff"/><circle cx="1777.7" cy="17.3" r="0.9" fill="#37c4ff"/><path d="M1771.6 31 Q1771.6 26.6 1777.4 26.6 Q1783.4 26.6 1783.4 31Z" fill="#e6eef8"/></g><g stroke="#d9dce2" stroke-width="0.9"><path d="M1846 16.6 H1851.6 M1848.8 15 V16.6 M1846.7 16.8 Q1848.3 20.4 1851.6 21.6 M1851 16.8 Q1849.6 20.2 1846 21.6"/><path d="M1851.5 24.8 L1853.7 19 L1856 24.8 M1852.3 23 H1855.2"/></g><g fill="#e3e5ea" stroke="none"><circle cx="1881.6" cy="15.6" r="0.85"/><circle cx="1881.6" cy="19.5" r="0.85"/><circle cx="1881.6" cy="23.4" r="0.85"/></g><g fill="#fff" stroke="none"><path d="M567.4 51.7 H569.6 L573 49 V57.8 L569.6 55.1 H567.4 Z"/><rect x="574.6" y="52.9" width="2.4" height="1" /><rect x="574.4" y="50.3" width="1.8" height="0.9" transform="rotate(-28 575.3 50.7)"/><rect x="574.4" y="55.7" width="1.8" height="0.9" transform="rotate(28 575.3 56.1)"/></g><path d="M1886.2 49.4 L1894.6 57.8 M1894.6 49.4 L1886.2 57.8" stroke="#fff" stroke-width="1"/><g stroke="#4e5563" stroke-width="1"><rect x="32.8" y="62.4" width="9.4" height="8.2" rx="1.6"/><path d="M32.8 66.5 H42.2 M37.5 70.6 V72.4 M35.4 72.5 H39.6 M35 64.5 H36 M37.6 64.5 H40.2 M35 68.6 H36 M37.6 68.6 H40.2" stroke-width="0.9"/></g><path d="M123.8 69.2 L127.4 65.4 L131 69.2" stroke="#4e5563" stroke-width="1.3"/><g stroke="#4e5563" stroke-width="0.95"><circle cx="37.5" cy="141.1" r="2.1"/><circle cx="34.6" cy="146.4" r="2.1"/><circle cx="40.4" cy="146.4" r="2.1"/></g><g stroke="#4e5563" stroke-width="1"><path d="M277.2 100.4 H287.8"/><path d="M279.2 97.6 L279.6 95.2 L285 89.9 L287 91.9 L281.6 97.2 Z"/></g><path d="M1655.6 103.4 L1663.3 107.8 L1655.6 112.2 Z" stroke="#3c4250" stroke-width="1"/><circle cx="1769.7" cy="108.2" r="4.9" stroke="#3c4250" stroke-width="1"/><rect x="1768.3" y="106.8" width="2.8" height="2.8" stroke="#3c4250" stroke-width="0.9"/><g fill="#3c4250" stroke="none"><circle cx="1870" cy="107.4" r="0.95"/><circle cx="1874.4" cy="107.4" r="0.95"/><circle cx="1878.8" cy="107.4" r="0.95"/></g><path d="M191.0 273.4 L194.2 277.5 L191.0 281.6" stroke="#2bb673" stroke-width="1.15" stroke-linecap="butt" stroke-linejoin="miter"/><path d="M195.1 273.4 L198.29999999999998 277.5 L195.1 281.6" stroke="#2bb673" stroke-width="1.15" stroke-linecap="butt" stroke-linejoin="miter"/><path d="M199.2 273.4 L202.39999999999998 277.5 L199.2 281.6" stroke="#2bb673" stroke-width="1.15" stroke-linecap="butt" stroke-linejoin="miter"/><g fill="#3c4250" stroke="none"><circle cx="570.4" cy="272.9" r="0.8"/><circle cx="570.4" cy="276.5" r="0.85"/><circle cx="570.4" cy="280.1" r="0.8"/></g><path d="M191.0 313.9 L194.2 318 L191.0 322.1" stroke="#2bb673" stroke-width="1.15" stroke-linecap="butt" stroke-linejoin="miter"/><path d="M195.1 313.9 L198.29999999999998 318 L195.1 322.1" stroke="#2bb673" stroke-width="1.15" stroke-linecap="butt" stroke-linejoin="miter"/><path d="M199.2 313.9 L202.39999999999998 318 L199.2 322.1" stroke="#2bb673" stroke-width="1.15" stroke-linecap="butt" stroke-linejoin="miter"/><g fill="#3c4250" stroke="none"><circle cx="570.4" cy="313.4" r="0.8"/><circle cx="570.4" cy="317" r="0.85"/><circle cx="570.4" cy="320.6" r="0.8"/></g><path d="M191.0 353.9 L194.2 358 L191.0 362.1" stroke="#2bb673" stroke-width="1.15" stroke-linecap="butt" stroke-linejoin="miter"/><path d="M195.1 353.9 L198.29999999999998 358 L195.1 362.1" stroke="#2bb673" stroke-width="1.15" stroke-linecap="butt" stroke-linejoin="miter"/><path d="M199.2 353.9 L202.39999999999998 358 L199.2 362.1" stroke="#2bb673" stroke-width="1.15" stroke-linecap="butt" stroke-linejoin="miter"/><g fill="#3c4250" stroke="none"><circle cx="570.4" cy="353.4" r="0.8"/><circle cx="570.4" cy="357" r="0.85"/><circle cx="570.4" cy="360.6" r="0.8"/></g><path d="M191.0 394.4 L194.2 398.5 L191.0 402.6" stroke="#2bb673" stroke-width="1.15" stroke-linecap="butt" stroke-linejoin="miter"/><path d="M195.1 394.4 L198.29999999999998 398.5 L195.1 402.6" stroke="#2bb673" stroke-width="1.15" stroke-linecap="butt" stroke-linejoin="miter"/><path d="M199.2 394.4 L202.39999999999998 398.5 L199.2 402.6" stroke="#2bb673" stroke-width="1.15" stroke-linecap="butt" stroke-linejoin="miter"/><g fill="#3c4250" stroke="none"><circle cx="570.4" cy="393.9" r="0.8"/><circle cx="570.4" cy="397.5" r="0.85"/><circle cx="570.4" cy="401.1" r="0.8"/></g><path d="M191.0 434.9 L194.2 439 L191.0 443.1" stroke="#2bb673" stroke-width="1.15" stroke-linecap="butt" stroke-linejoin="miter"/><path d="M195.1 434.9 L198.29999999999998 439 L195.1 443.1" stroke="#2bb673" stroke-width="1.15" stroke-linecap="butt" stroke-linejoin="miter"/><path d="M199.2 434.9 L202.39999999999998 439 L199.2 443.1" stroke="#2bb673" stroke-width="1.15" stroke-linecap="butt" stroke-linejoin="miter"/><g fill="#3c4250" stroke="none"><circle cx="570.4" cy="434.4" r="0.8"/><circle cx="570.4" cy="438" r="0.85"/><circle cx="570.4" cy="441.6" r="0.8"/></g><path d="M191.0 475.4 L194.2 479.5 L191.0 483.6" stroke="#2bb673" stroke-width="1.15" stroke-linecap="butt" stroke-linejoin="miter"/><path d="M195.1 475.4 L198.29999999999998 479.5 L195.1 483.6" stroke="#2bb673" stroke-width="1.15" stroke-linecap="butt" stroke-linejoin="miter"/><path d="M199.2 475.4 L202.39999999999998 479.5 L199.2 483.6" stroke="#2bb673" stroke-width="1.15" stroke-linecap="butt" stroke-linejoin="miter"/><g fill="#3c4250" stroke="none"><circle cx="570.4" cy="474.9" r="0.8"/><circle cx="570.4" cy="478.5" r="0.85"/><circle cx="570.4" cy="482.1" r="0.8"/></g><g stroke="#1296e8" stroke-width="1.4"><path d="M212.4 275.6 A4 4 0 0 1 219.2 276.9 M219.6 279.6 A4 4 0 0 1 214.6 282.1 M211.6 279.9 A4 4 0 0 1 211.6 277.2"/><circle cx="211.6" cy="274.6" r="1.5" fill="#1296e8" stroke="none"/><circle cx="220" cy="282.6" r="1.5" fill="#1296e8" stroke="none"/></g><g stroke="#8fc31f" stroke-width="1.3" stroke-linejoin="miter"><rect x="210.4" y="316.4" width="7" height="6.6"/><path d="M212.8 314 H220.6 V320.6"/></g><g stroke="#f9d98c" stroke-width="0.8"><circle cx="214.2" cy="359" r="2.2"/><path d="M212.6 357.4 L210.2 355.4 M215.8 357.4 L219.6 355.2 M215.8 360.6 L219.4 363 M212.6 360.6 L211 362.8"/><circle cx="220.4" cy="354.6" r="0.9"/><circle cx="220.4" cy="363.6" r="0.9"/></g><g stroke="#f5b91f" stroke-width="1"><circle cx="215.5" cy="399.7" r="2.2"/><circle cx="215.5" cy="394.7" r="1.4" fill="#f5b91f" stroke="none"/><circle cx="211" cy="402.4" r="1.4" fill="#f5b91f" stroke="none"/><circle cx="220" cy="402.4" r="1.4" fill="#f5b91f" stroke="none"/><path d="M215.5 403.6 V405.4 M211.4 397.4 L210.4 396.9 M219.6 397.4 L220.6 396.9" stroke-width="0.8"/></g><g fill="#27b3ff" stroke="none"><path d="M215.6 433.4 Q217.8 436 217.4 440.4 L219.6 442.4 V443.6 H211.8 V442.4 L213.9 440.4 Q213.4 436 215.6 433.4Z"/><rect x="215.2" y="443.6" width="0.9" height="2"/></g><g stroke="#fbe2a2" stroke-width="0.8"><rect x="212.6" y="478" width="4.4" height="3.4"/><path d="M212.6 478 L210 476.4 M217 478 L220.4 475.8 M217 481.4 L220.2 483.6 M212.6 481.4 L210.6 483"/><circle cx="221" cy="475.6" r="0.9"/><circle cx="220.9" cy="484" r="0.9"/></g><g fill="#3c4660" stroke="none"><path d="M189.6 563.6 V560.4 A3.1 3.1 0 0 1 195.8 560.4 V563.6 L196.6 564.6 H188.8 Z"/><rect x="191.8" y="565" width="1.8" height="0.9"/></g><g stroke="#3c4660" stroke-width="0.6"><path d="M192.7 555.4 V556.4 M189.6 556.6 L190.1 557.3 M195.8 556.6 L195.3 557.3 M188 559.4 H188.8 M196.6 559.4 H197.4"/></g><circle cx="192.7" cy="561.4" r="0.8" fill="#f6f7fb" stroke="none"/><g stroke="#2b7bff" stroke-width="1" stroke-linejoin="round"><path d="M202.1 597 L210.6 611 H193.6 Z"/><path d="M202.1 599.6 L208 609.6 H196.2 Z" stroke-width="0.5"/><path d="M202.1 602.6 V606.6 M202.1 608 V608.4" stroke-width="0.9"/></g></svg>
<div class="abs" style="left:1903px;top:0;width:17px;height:910px;background:#f1f1f1"></div>
<div class="abs" style="left:1905px;top:17px;width:13px;height:641px;background:#c1c1c1"></div>
<svg width="17" height="910" style="left:1903px;top:0" viewBox="0 0 17 910"><path d="M4.9 10.8 L8.5 6.8 L12.2 10.8Z" fill="#a3a3a3"/><path d="M4.8 900 L8.55 904 L12.3 900Z" fill="#505050"/></svg>
</body></html>
